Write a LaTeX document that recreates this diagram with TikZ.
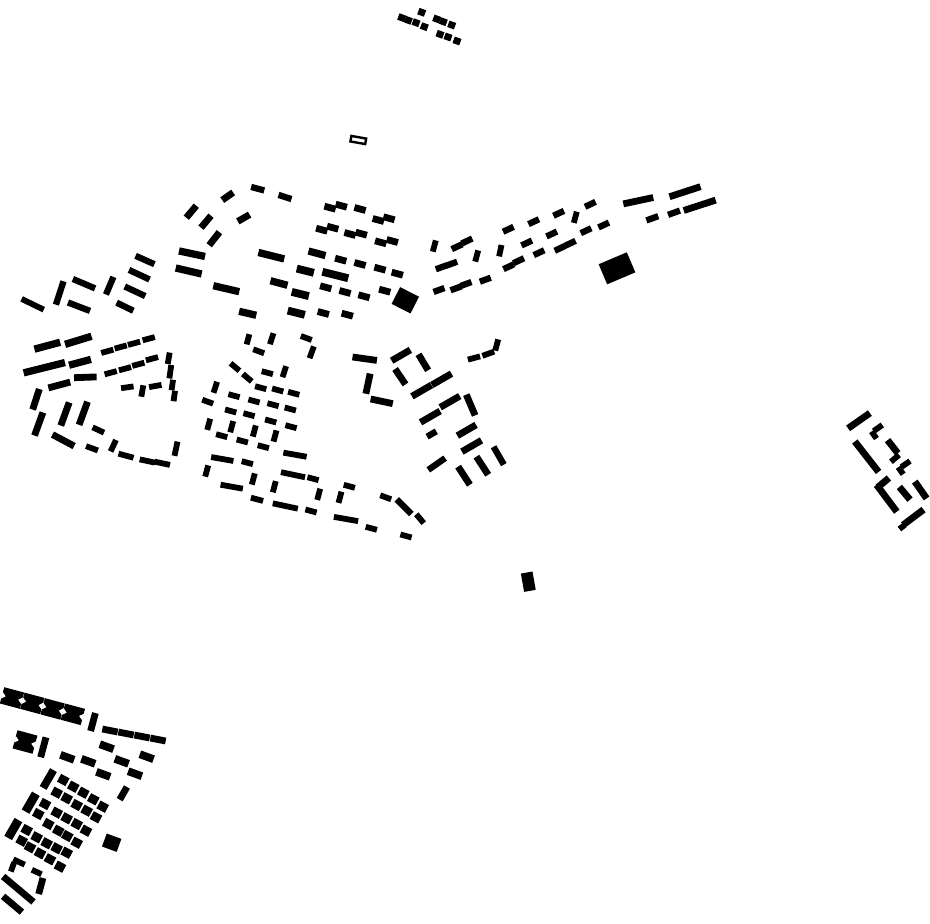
\documentclass[tikz,border=0pt]{standalone}
\begin{document}
\begin{tikzpicture}[x=1pt,y=-1pt,bldg/.style={fill=black},gap/.style={fill=white}]
\fill[white] (0,0) rectangle (930,924);
\useasboundingbox (0,0) rectangle (930,924);
\newcommand\bld[5]{\fill[bldg,shift={(#1,#2)},rotate=#5] (-#3/2-0.3,-#4/2-0.4) rectangle (#3/2+0.3,#4/2+0.4);}
% generic buildings x/y/length/width/angle
\foreach \x/\y/\l/\w/\a in {
32.7/304.3/24/5/-26, 59.7/293/24/5.5/72, 84/283.7/23.5/5.5/-23, 79/306.7/23/5.5/-21,
109.7/285.7/18.5/5.5/67, 145/260/20/5.5/-24, 139.3/274.7/22/5.5/-25, 135/291.3/22/5.5/-25,
125/306.7/18/5.5/-26,
227.7/196.3/12.7/6/35, 257.7/188.7/13/5.5/-15, 285/197/13/5.5/-18, 191.3/211.7/15/6/50,
206/221.7/15/6/50, 214.3/238.7/16/6/52, 243.7/218/13/6/30, 192/253.7/26/6.5/-12,
188.7/271/26/6.5/-13, 226.3/288.7/26/6.5/-13, 271.3/255.7/26/6.5/-14, 247.7/313.3/17/6.5/-13,
279/283/17/6.5/-15, 317/253.3/17/6.5/-15, 305.3/270.7/17/7/-14, 335.3/275/26/7/-14,
300.3/294/17/7/-14, 296.3/312.7/17/7/-14, 405.3/300.3/20.6/18/-27,
434.3/246/11/5/75, 476.7/256/11/5/75, 500.3/250.7/11/5/78, 575.3/217.3/11/5/75,
617/268.3/30/21/23, 638.3/200.7/30/6/12, 652.3/218.3/12/5.5/20, 674/212.7/12/5.5/20,
685/191.7/32/6/18, 699.7/205.3/33/6/18,
47.3/345.7/26/6.5/15, 78.3/340.3/27/6.5/17, 44.3/367.7/42/6.5/14, 80/362.3/22/6.5/15,
85.3/377.3/22/6/2, 59.3/385/22/6/15, 36/399.3/21/6/72, 38.7/424/24/6/70, 65/414/24/6/70,
83.3/413.3/24/6/70, 63.3/440.3/24/6/-28,
168.7/358.3/11/5/80, 170.3/371.7/13/5/82, 172.3/385/10/5/82, 174.3/396/10/5/82,
127.3/387.3/12/5/8, 142.3/391/11/5/80, 155.3/386/12/5/10, 98.3/430/12/5/-25, 92/448.3/12/5/-20,
113.3/445.7/12/5/65, 126/455.7/15/5/-15, 147.3/461/15/5/-12, 162.3/463.3/15/5/-12, 176/448.7/14/5/78,
248/339.3/10/5/75, 271.7/338.7/11/5/72, 306.3/338/11/5/-20, 311.7/352.3/12/5/70, 258.7/351.3/11/5/-20,
235/367/11/5/-40, 247.3/377.7/11/5/-40, 267.3/372.7/11/5/-15, 284.3/371.7/11/5/72, 215.3/387.3/11/5/72,
207.7/401.7/11/5/-20, 208.7/424.3/11/5/75, 231.7/426.7/11/5/75, 254.3/431/11/5/75, 275/436/11/5/75,
295/454.7/23/5/-10, 222.3/459/22/5/-10, 206.7/471/11/5/75, 293/474.7/24/5/-12, 253.3/479/11/5/75,
274.3/486.7/11/5/75, 231.7/486.7/22/5/-10, 318.7/494.3/11/5/75, 257/499.3/12/5/-15, 285.3/506/25/5/-12,
364.7/358.7/24/6/-8, 401/355.3/21/6/30, 423.3/362.3/18/6/-59, 400.3/376.7/18/6/-56, 368/383.7/20/6/78,
381.7/401.3/22/6/-12, 421.7/390.7/22/6/30, 441.7/379.3/22/6/30, 450/401.7/22/6/30, 430.3/416.7/22/6/30,
470.7/405/22/6/-67, 431.7/434/10/5.5/30, 466.7/430.3/21/6/30, 471.7/446/22/6/30, 436.7/464/20/5.5/35,
464/475.7/21/6/-57, 482.3/465.7/21/6/-57, 498.7/455.7/20/5.5/-60, 474/358/12/5/15, 488.3/353.7/12/5/20,
496.7/345/11/5/75, 349.3/486.3/11/5/-15, 340/497.3/11/5/75, 346/519/24/5/-10, 371.3/528.3/11/5/-15,
385.7/497.3/11/5/-20, 404/506.7/20/5.5/-45, 420/518.7/11/5/-50, 406/536/11/5/-15,
528.3/581.7/18/11/100,
859/420.7/26/6/35, 878/428/10/5/35, 874/435/8/5/-55, 866.7/456.7/38/6/-52, 892.7/446.7/16/6/-52,
895/458.3/10/5/40, 905.7/464/10/5/35, 900.7/470.7/8/5/-55, 886.7/498.3/33/6/-53, 883.3/482.7/14/6/40,
904.7/493.3/16/6/-50, 920.7/490/20/6/-55, 913.3/517.3/25/6/37, 902/527/6/5/37,
93/722/18/6/75, 43.3/747.3/20/6/75, 25/742/20/18/-15,
110/730.5/15/6/-11, 126/733.5/15/6/-11, 142/736.5/15/6/-11, 158/739.5/15/6/-11,
123.3/793.3/14/6/60, 48.3/779/20/7/60, 30.7/802.7/20/8/60, 13.3/829/20/8/60, 111.7/842.7/15/13/-20,
19/862/12/5/-25, 12.5/867/9/5/70, 36.7/872/10/5/-25, 40.8/886/16/6/75,
18.3/889.2/39/6/-40, 12.5/904.2/24/6/-40
}{\bld{\x}{\y}{\l}{\w}{\a}}
% small row houses, angle -15
\foreach \x/\y in {340.7/259.7, 360/264, 380/268.7, 397.3/273.7, 325.7/287.3, 345/292, 364/296.3,
384.7/290.7, 323.3/313, 347.3/314.7, 330/207.7, 341.3/205.7, 360/209, 378.3/220, 389/218.3,
321.7/229.7, 332.7/227.7, 350/234, 361.3/233.7, 380.7/242.3, 392.3/241}
{\bld{\x}{\y}{11}{6}{-15}}
% small houses angle 20-25
\foreach \x/\y/\a in {457/246.7/25, 467/241/25, 441.3/267.3/20, 451.7/263.7/20, 439/290/20, 456/288.3/20,
466/284/20, 485.3/279.7/20, 508.3/229.3/25, 508.7/266.7/25, 518.7/260.7/25, 526.7/243/25,
533.7/221.7/25, 539/252.7/25, 551.7/234/25, 558.7/213.3/25, 560/248.3/25, 570.3/243.3/25,
586/230.7/25, 590.3/204.3/25, 603.7/225/25}
{\bld{\x}{\y}{11}{5.5}{\a}}
% small houses angle 15
\foreach \x/\y in {107.3/351.3, 120.7/347, 134/343.3, 148.7/338.7, 110.7/372.7, 125/368.7, 138.3/364.3, 152/358.7}
{\bld{\x}{\y}{12}{5}{15}}
% small houses angle -15
\foreach \x/\y in {260.7/387.7, 277.7/390, 293.7/393.3, 234/395.7, 254/401, 273/404.7, 290.3/409,
230.7/411, 249/414.7, 270.7/421, 291/426.7, 221.7/435.7, 242.3/441, 263.3/446.7, 247.3/462.7,
313/478.7, 311/511}
{\bld{\x}{\y}{11}{5}{-15}}
% top cluster
\foreach \x/\y in {401.7/17.7, 408.3/20.3, 416/22.7, 424.3/26.7, 421.7/12.3, 436.7/19, 443.3/21.7,
451.7/25, 440/34.3, 448/37, 457/41}
{\bld{\x}{\y}{6.5}{6}{-20}}
% outlined building
\draw[line width=2.4pt,shift={(358.3,140)},rotate=-10] (-7.5,-2.8) rectangle (7.5,2.8);
% large block row with side notches
\foreach \x/\y in {12/698, 32.3/703.4, 52.6/708.9, 72.9/714.3}
{\bld{\x}{\y}{20}{16}{-15}
 \fill[gap,shift={(\x,\y)},rotate=-15] (-10.6,-3.5) -- (-6.5,0) -- (-10.6,3.5) -- cycle (10.6,-3.5) -- (6.5,0) -- (10.6,3.5) -- cycle;}
\fill[gap,shift={(25,742)},rotate=-15] (-10.6,-3.5) -- (-6.5,0) -- (-10.6,3.5) -- cycle (10.6,-3.5) -- (6.5,0) -- (10.6,3.5) -- cycle;
% medium houses
\foreach \x/\y in {67.3/757.3, 88.3/761.3, 106.7/746.7, 121.7/761.3, 146.7/756.7, 103.3/774.3, 135/773.7}
{\bld{\x}{\y}{14}{7}{-20}}
% grid of small blocks
\foreach \x/\y in {63.3/780, 73.3/786.7, 83.3/792.7, 93.3/799.3, 102.7/806.7,
56.7/792.7, 66.7/798.3, 76.7/805, 86.7/810.7, 96/817.3,
45/804, 38.3/814, 56.7/812.7, 66.7/818.3, 76.7/824, 86/830.7,
48.3/824, 58.3/830.7, 67.3/836, 76.7/842.7,
26.7/830, 21.7/840.7, 36.7/837.3, 46.7/843.3, 56.7/848.3, 66.7/852.7,
30/847.3, 40/853.3, 50/859.3, 60/866.7}
{\bld{\x}{\y}{9}{8}{-28}}
\end{tikzpicture}
\end{document}
